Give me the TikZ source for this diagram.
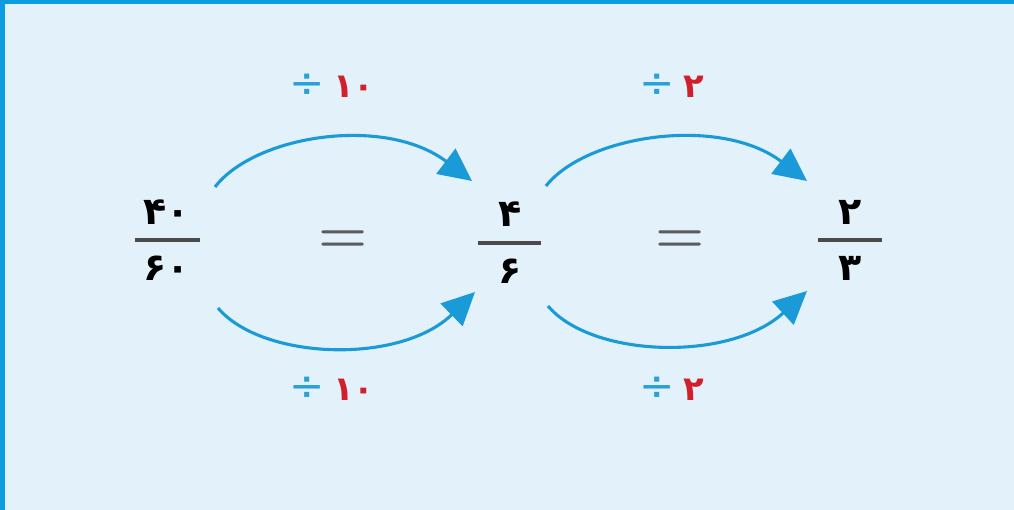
\documentclass[tikz,border=0pt]{standalone}
\usepackage{fontspec}
\usetikzlibrary{arrows.meta}
\newfontfamily\pfont[Script=Arabic]{DejaVu Sans}
\definecolor{bgc}{HTML}{E3F1FB}
\definecolor{frame}{HTML}{0B9DE0}
\definecolor{arr}{HTML}{1A9AD6}
\definecolor{divc}{HTML}{2AA0D8}
\definecolor{numred}{HTML}{D21F2C}
\definecolor{bargray}{HTML}{4A4A4A}
\tikzset{
  digit/.style={font=\pfont\bfseries\fontsize{27}{30}\selectfont, text=black, inner sep=0pt},
  lab/.style={inner sep=0pt},
  eqsign/.style={font=\bfseries\fontsize{40}{44}\selectfont, text=bargray!90, inner sep=0pt},
  fbar/.style={draw=bargray, line width=2.2pt},
  curvearrow/.style={draw=arr, line width=2.2pt, -{Triangle[length=0.82cm,width=0.78cm]}},
}
\newcommand{\divlabel}[1]{{\pfont\fontsize{30}{32}\selectfont\textcolor{divc}{÷}}\hspace{6pt}{\pfont\bfseries\fontsize{24}{26}\selectfont\textcolor{numred}{#1}}}
\begin{document}
\begin{tikzpicture}[x=0.025cm,y=-0.025cm]
\useasboundingbox (0,0) rectangle (1014,510);
\fill[bgc] (0,0) rectangle (1014,510);
\fill[frame] (0,0) rectangle (1014,4);
\fill[frame] (0,0) rectangle (5,510);
% fractions
\node[digit] (n1) at (167,212) {۴۰};
\node[digit] (d1) at (167,268) {۶۰};
\draw[fbar] (135,240) -- (200,240);
\node[digit] (n2) at (510,214) {۴};
\node[digit] (d2) at (510,271) {۶};
\draw[fbar] (478,243) -- (541,243);
\node[digit] (n3) at (850,212) {۲};
\node[digit] (d3) at (850,268) {۳};
\draw[fbar] (818,240) -- (882,240);
% equals
\node[eqsign] (e1) at (343,242) {=};
\node[eqsign] (e2) at (680,242) {=};
% labels
\node[lab] (l1) at (332,86) {\divlabel{۱۰}};
\node[lab] (l2) at (332,389) {\divlabel{۱۰}};
\node[lab] (l3) at (672,86) {\divlabel{۲}};
\node[lab] (l4) at (672,389) {\divlabel{۲}};
% arrow end points
\coordinate (a1s) at (215,187); \coordinate (a1e) at (472,181);
\coordinate (a2s) at (218,308); \coordinate (a2e) at (475,292);
\coordinate (a3s) at (546,186); \coordinate (a3e) at (807,181);
\coordinate (a4s) at (548,306); \coordinate (a4e) at (807,291);
\draw[curvearrow] (a1s) .. controls (255,135) and (385,115) .. (a1e);
\draw[curvearrow] (a2s) .. controls (262,360) and (400,365) .. (a2e);
\draw[curvearrow] (a3s) .. controls (586,135) and (720,115) .. (a3e);
\draw[curvearrow] (a4s) .. controls (592,358) and (730,362) .. (a4e);
\end{tikzpicture}
\end{document}
